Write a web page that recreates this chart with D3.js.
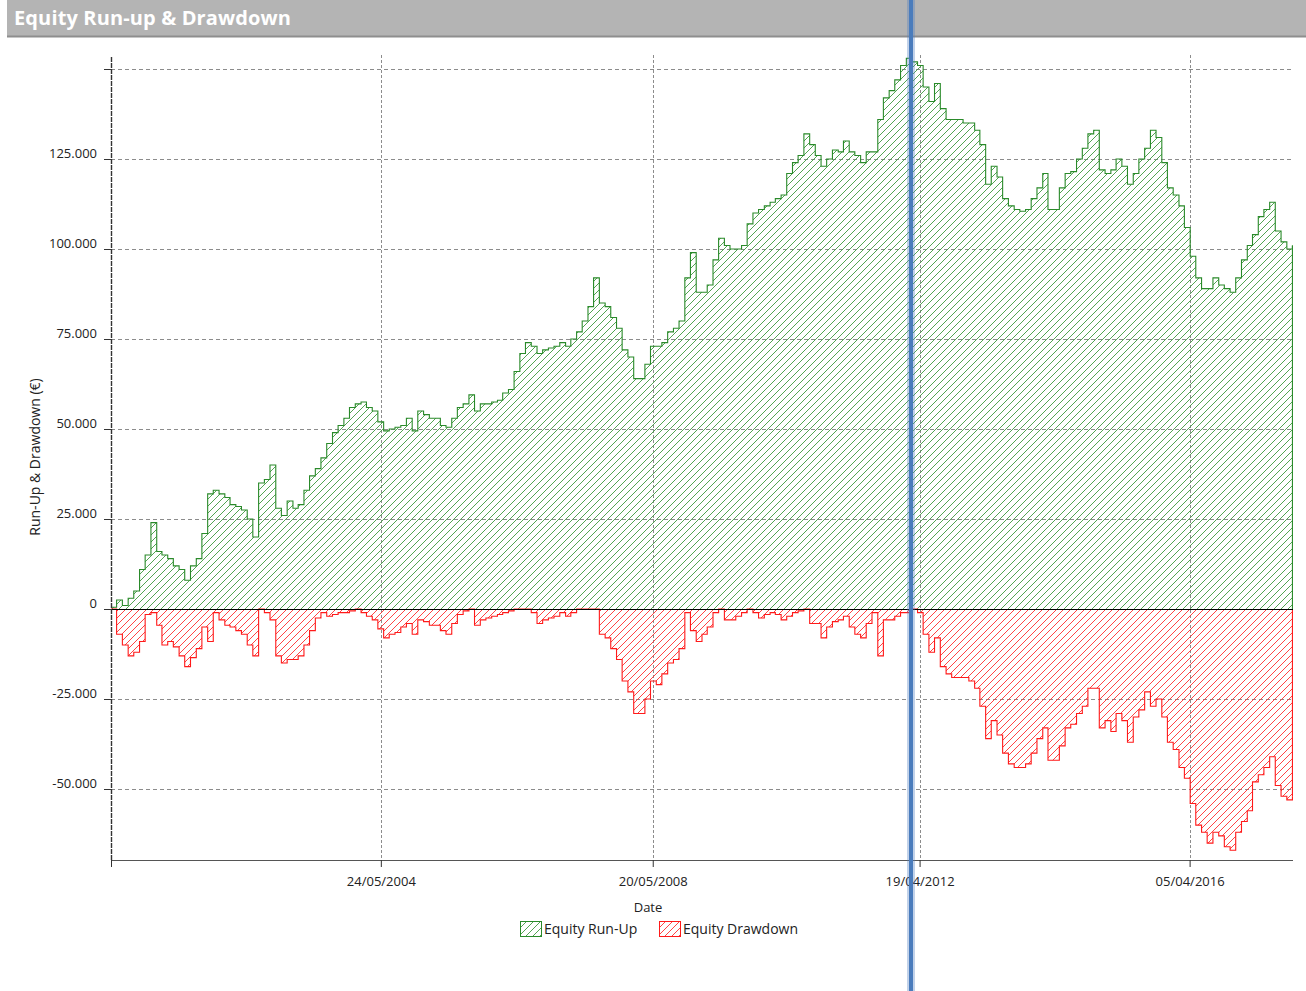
<!DOCTYPE html>
<html>
<head>
<meta charset="utf-8">
<script src="https://cdn.jsdelivr.net/npm/d3@7/dist/d3.min.js"></script>
<style>
  body { margin: 0; background: #fff; }
  svg { display: block; font-family: 'Open Sans', sans-serif; }
</style>
</head>
<body>
<div id="chart"></div>
<script>
// ---- data (one sample per month, in €) ----
const title = 'Equity Run-up & Drawdown';
const yAxisTitle = 'Run-Up & Drawdown (€)';
const xAxisTitle = 'Date';
const seriesNames = ['Equity Run-Up', 'Equity Drawdown'];
const startDate = new Date(2000, 5, 8);
const endDate = new Date(2017, 9, 11);
const splitDate = new Date(2012, 2, 5);
const xTickLabels = ['24/05/2004', '20/05/2008', '19/04/2012', '05/04/2016'];
const yTicks = [-50000, -25000, 0, 25000, 50000, 75000, 100000, 125000, 150000];
const yLabelled = [-50000, -25000, 0, 25000, 50000, 75000, 100000, 125000];

const runUp = [
  500, 2500, 1000, 3000, 5000, 11000, 15000, 24000, 16000, 15000,
  14000, 12000, 11000, 8000, 12000, 14000, 21000, 32000, 33000, 32000,
  31000, 29000, 28500, 27500, 25000, 20000, 35000, 36000, 40000, 28000,
  26000, 30000, 28000, 29000, 33000, 37000, 39000, 42000, 46000, 49000,
  51000, 53000, 56000, 57000, 57500, 56000, 55000, 52000, 49500, 50000,
  50500, 51000, 53000, 49500, 55000, 54000, 53000, 53000, 51000, 50500,
  53000, 56000, 57000, 59500, 55000, 57000, 57000, 57500, 58000, 60000,
  61000, 66000, 71000, 74000, 73000, 71000, 72000, 72500, 73000, 74000,
  73000, 75000, 77000, 80000, 84000, 92000, 85000, 84000, 81000, 78000,
  72000, 70000, 64000, 64000, 68000, 73000, 73000, 74000, 77000, 78000,
  80000, 92000, 99000, 88000, 88000, 90000, 97000, 103000, 101000, 100000,
  100000, 101000, 107000, 110000, 111000, 112000, 113000, 114000, 115000, 121000,
  124000, 126000, 132000, 129000, 126000, 123000, 125000, 127500, 127000, 130000,
  127000, 126000, 124000, 127000, 127000, 136000, 142000, 144000, 147000, 151000,
  153000, 152000, 151000, 145000, 141000, 146000, 139000, 136000, 136000, 136000,
  135000, 135000, 133000, 129000, 118000, 123000, 120000, 114000, 112000, 111000,
  110500, 111000, 114000, 117000, 121000, 111000, 111000, 117000, 121000, 121500,
  125000, 128000, 132000, 133000, 122000, 121000, 122000, 125000, 123000, 118000,
  121000, 125000, 128000, 133000, 131000, 124000, 117000, 115000, 112000, 106000,
  98000, 92000, 89000, 89000, 92000, 90000, 89000, 88000, 92000, 97000,
  101000, 104000, 109000, 111000, 113000, 105000, 102000, 100000, 101000
];

const drawdown = [
  0, -7000, -10000, -13000, -12000, -9000, -1500, -1000, -4500, -10000,
  -9000, -10500, -13000, -16000, -13500, -11000, -5000, -9000, -1000, -3000,
  -4500, -5000, -6000, -7000, -10000, -13000, 0, -1000, -3000, -13000,
  -15000, -14000, -14000, -13000, -10000, -6000, -2500, -1000, -2000, -1500,
  -1000, -1000, -500, 0, -1000, -2000, -3000, -5500, -8000, -7000,
  -6500, -5000, -4000, -7000, -3000, -3500, -4500, -4500, -6000, -7000,
  -4000, -1500, -500, 0, -4500, -3000, -2500, -2000, -1500, -1000,
  -500, 0, 0, 0, -1000, -4000, -3000, -2500, -2000, -1000,
  -2000, -1000, 0, 0, 0, 0, -7000, -8000, -11000, -14000,
  -20000, -23000, -29000, -29000, -25000, -20000, -21000, -18000, -15000, -14000,
  -11000, -1000, -6000, -9000, -7000, -5000, -1000, 0, -3000, -3000,
  -2000, -1000, 0, -1000, -2500, -1500, -1000, -1500, -3000, -2000,
  -1000, -500, 0, -4000, -4000, -8000, -5000, -3500, -3000, -2000,
  -5000, -7000, -8000, -4000, -1000, -13000, -3000, -3000, -2000, -1000,
  -1000, 0, -1000, -7000, -12000, -8000, -16000, -18000, -19000, -19000,
  -19000, -20000, -22000, -27000, -36000, -31000, -35000, -40000, -43000, -44000,
  -44000, -43000, -40000, -36000, -33000, -42000, -42000, -38000, -33000, -32000,
  -29000, -27000, -22000, -22000, -33000, -31000, -34000, -29000, -31000, -37000,
  -30000, -28000, -23000, -27000, -25000, -30000, -37000, -39000, -44000, -47000,
  -54000, -60000, -62000, -65000, -62000, -63000, -66000, -67000, -62000, -59000,
  -56000, -48000, -46000, -44000, -41000, -49000, -52000, -53000, -52000
];

// ---- layout ----
const width = 1306, height = 991;
const plot = { left: 111, right: 1293, top: 55, bottom: 860 };
const green = '#2a8a2a', red = '#ff1a1a';

const parseDay = d3.timeParse('%d/%m/%Y');
const fmtDay = d3.timeFormat('%d/%m/%Y');
const locale = d3.formatLocale({ decimal: ',', thousands: '.', grouping: [3], currency: ['', '€'], minus: '-' });
const fmtY = locale.format(',');

const dates = runUp.map((d, i) => d3.timeMonth.offset(startDate, i));

const x = d3.scaleTime().domain([startDate, endDate]).range([plot.left, plot.right]);
const y = d3.scaleLinear().domain([-69700, 153900]).range([plot.bottom, plot.top]);

const svg = d3.select('#chart').append('svg')
  .attr('width', width)
  .attr('height', height);

const defs = svg.append('defs');
function hatch(id, color) {
  const p = defs.append('pattern')
    .attr('id', id)
    .attr('patternUnits', 'userSpaceOnUse')
    .attr('width', 7)
    .attr('height', 7);
  p.append('path')
    .attr('d', 'M-1,1 l2,-2 M0,7 l7,-7 M6,8 l2,-2')
    .attr('stroke', color)
    .attr('stroke-width', 0.9);
}
hatch('hatchGreen', '#3f9a3f');
hatch('hatchRed', '#ff3030');

// title bar
svg.append('rect')
  .attr('x', 7).attr('y', 0)
  .attr('width', width - 7).attr('height', 36)
  .attr('fill', '#b4b4b4');
svg.append('line')
  .attr('x1', 7).attr('x2', width)
  .attr('y1', 36.5).attr('y2', 36.5)
  .attr('stroke', '#8e8e8e')
  .attr('stroke-width', 2);
svg.append('text')
  .attr('x', 14).attr('y', 25)
  .attr('fill', '#fff')
  .attr('font-size', 20)
  .attr('font-weight', 'bold')
  .attr('textLength', 277)
  .text(title);

// grid lines
svg.selectAll('.y-grid')
  .data(yTicks.filter(v => v !== 0))
  .enter()
  .append('line')
  .attr('class', 'y-grid')
  .attr('x1', plot.left).attr('x2', plot.right)
  .attr('y1', d => Math.round(y(d)) + 0.5)
  .attr('y2', d => Math.round(y(d)) + 0.5)
  .attr('stroke', '#8c8c8c')
  .attr('stroke-dasharray', '4,3');

const xTicks = xTickLabels.map(parseDay);
svg.selectAll('.x-grid')
  .data(xTicks)
  .enter()
  .append('line')
  .attr('class', 'x-grid')
  .attr('x1', d => Math.round(x(d)) + 0.5)
  .attr('x2', d => Math.round(x(d)) + 0.5)
  .attr('y1', plot.top).attr('y2', plot.bottom)
  .attr('stroke', '#8c8c8c')
  .attr('stroke-dasharray', '3,2');

// areas (drawn as steps, like the daily equity line of the original)
function drawArea(values, fillId, color) {
  const area = d3.area()
    .curve(d3.curveStepAfter)
    .x((d, i) => x(dates[i]))
    .y0(y(0))
    .y1(d => y(d));
  svg.append('path')
    .datum(values)
    .attr('fill', `url(#${fillId})`)
    .attr('d', area);

  const line = d3.line()
    .curve(d3.curveStepAfter)
    .x((d, i) => x(dates[i]))
    .y(d => y(d));
  svg.append('path')
    .datum(values)
    .attr('fill', 'none')
    .attr('stroke', color)
    .attr('stroke-width', 1.1)
    .attr('d', line);

  // closing edge down to zero at the last date
  const last = values.length - 1;
  svg.append('line')
    .attr('x1', x(dates[last])).attr('x2', x(dates[last]))
    .attr('y1', y(values[last])).attr('y2', y(0))
    .attr('stroke', color)
    .attr('stroke-width', 1.1);
}
drawArea(runUp, 'hatchGreen', green);
drawArea(drawdown, 'hatchRed', red);

// zero line
svg.append('line')
  .attr('x1', plot.left - 7).attr('x2', plot.right)
  .attr('y1', Math.round(y(0)) + 0.5).attr('y2', Math.round(y(0)) + 0.5)
  .attr('stroke', '#000');

// y axis
svg.append('line')
  .attr('x1', plot.left + 0.5).attr('x2', plot.left + 0.5)
  .attr('y1', plot.top + 2).attr('y2', plot.bottom)
  .attr('stroke', '#333')
  .attr('stroke-width', 1.4)
  .attr('stroke-dasharray', '5,1');
svg.selectAll('.y-tick')
  .data(yTicks)
  .enter()
  .append('line')
  .attr('x1', plot.left - 7).attr('x2', plot.left)
  .attr('y1', d => Math.round(y(d)) + 0.5)
  .attr('y2', d => Math.round(y(d)) + 0.5)
  .attr('stroke', '#333');
svg.selectAll('.y-label')
  .data(yLabelled)
  .enter()
  .append('text')
  .attr('x', plot.left - 14)
  .attr('y', d => y(d) - 1)
  .attr('text-anchor', 'end')
  .attr('font-size', 13)
  .attr('fill', '#222')
  .text(d => fmtY(d));
svg.append('text')
  .attr('transform', `translate(40, 457) rotate(-90)`)
  .attr('text-anchor', 'middle')
  .attr('font-size', 14)
  .attr('fill', '#222')
  .text(yAxisTitle);

// x axis
const xAxis = svg.append('g')
  .attr('transform', `translate(0, ${plot.bottom})`)
  .call(d3.axisBottom(x)
    .tickValues([startDate].concat(xTicks))
    .tickSize(7)
    .tickFormat(d => d === startDate ? '' : fmtDay(d)));
xAxis.select('.domain').attr('stroke', '#555').attr('d', `M${plot.left},0.5H${plot.right}`);
xAxis.selectAll('.tick line').attr('stroke', '#333');
xAxis.selectAll('.tick text')
  .attr('font-family', 'Open Sans, sans-serif')
  .attr('font-size', 13)
  .attr('fill', '#222')
  .attr('dy', '1.2em');
svg.append('text')
  .attr('x', 648).attr('y', 912)
  .attr('text-anchor', 'middle')
  .attr('font-size', 13)
  .attr('fill', '#222')
  .text(xAxisTitle);

// legend
const legend = svg.append('g').attr('transform', 'translate(520, 921)');
const legendItems = [
  { name: seriesNames[0], fill: 'hatchGreen', color: green, dx: 0 },
  { name: seriesNames[1], fill: 'hatchRed', color: red, dx: 139 }
];
legendItems.forEach(it => {
  const g = legend.append('g').attr('transform', `translate(${it.dx}, 0)`);
  g.append('rect')
    .attr('x', 0.5).attr('y', 0.5)
    .attr('width', 21).attr('height', 15)
    .attr('fill', `url(#${it.fill})`)
    .attr('stroke', it.color);
  g.append('text')
    .attr('x', 24).attr('y', 13)
    .attr('font-size', 14)
    .attr('fill', '#222')
    .text(it.name);
});

// in-sample / out-of-sample marker
const xs = Math.round(x(splitDate));
svg.append('line')
  .attr('x1', xs).attr('x2', xs)
  .attr('y1', 0).attr('y2', height)
  .attr('stroke', '#4f7fbf')
  .attr('stroke-opacity', 0.35)
  .attr('stroke-width', 8);
svg.append('line')
  .attr('x1', xs).attr('x2', xs)
  .attr('y1', 0).attr('y2', height)
  .attr('stroke', '#4a7cbc')
  .attr('stroke-width', 4);
</script>
</body>
</html>
